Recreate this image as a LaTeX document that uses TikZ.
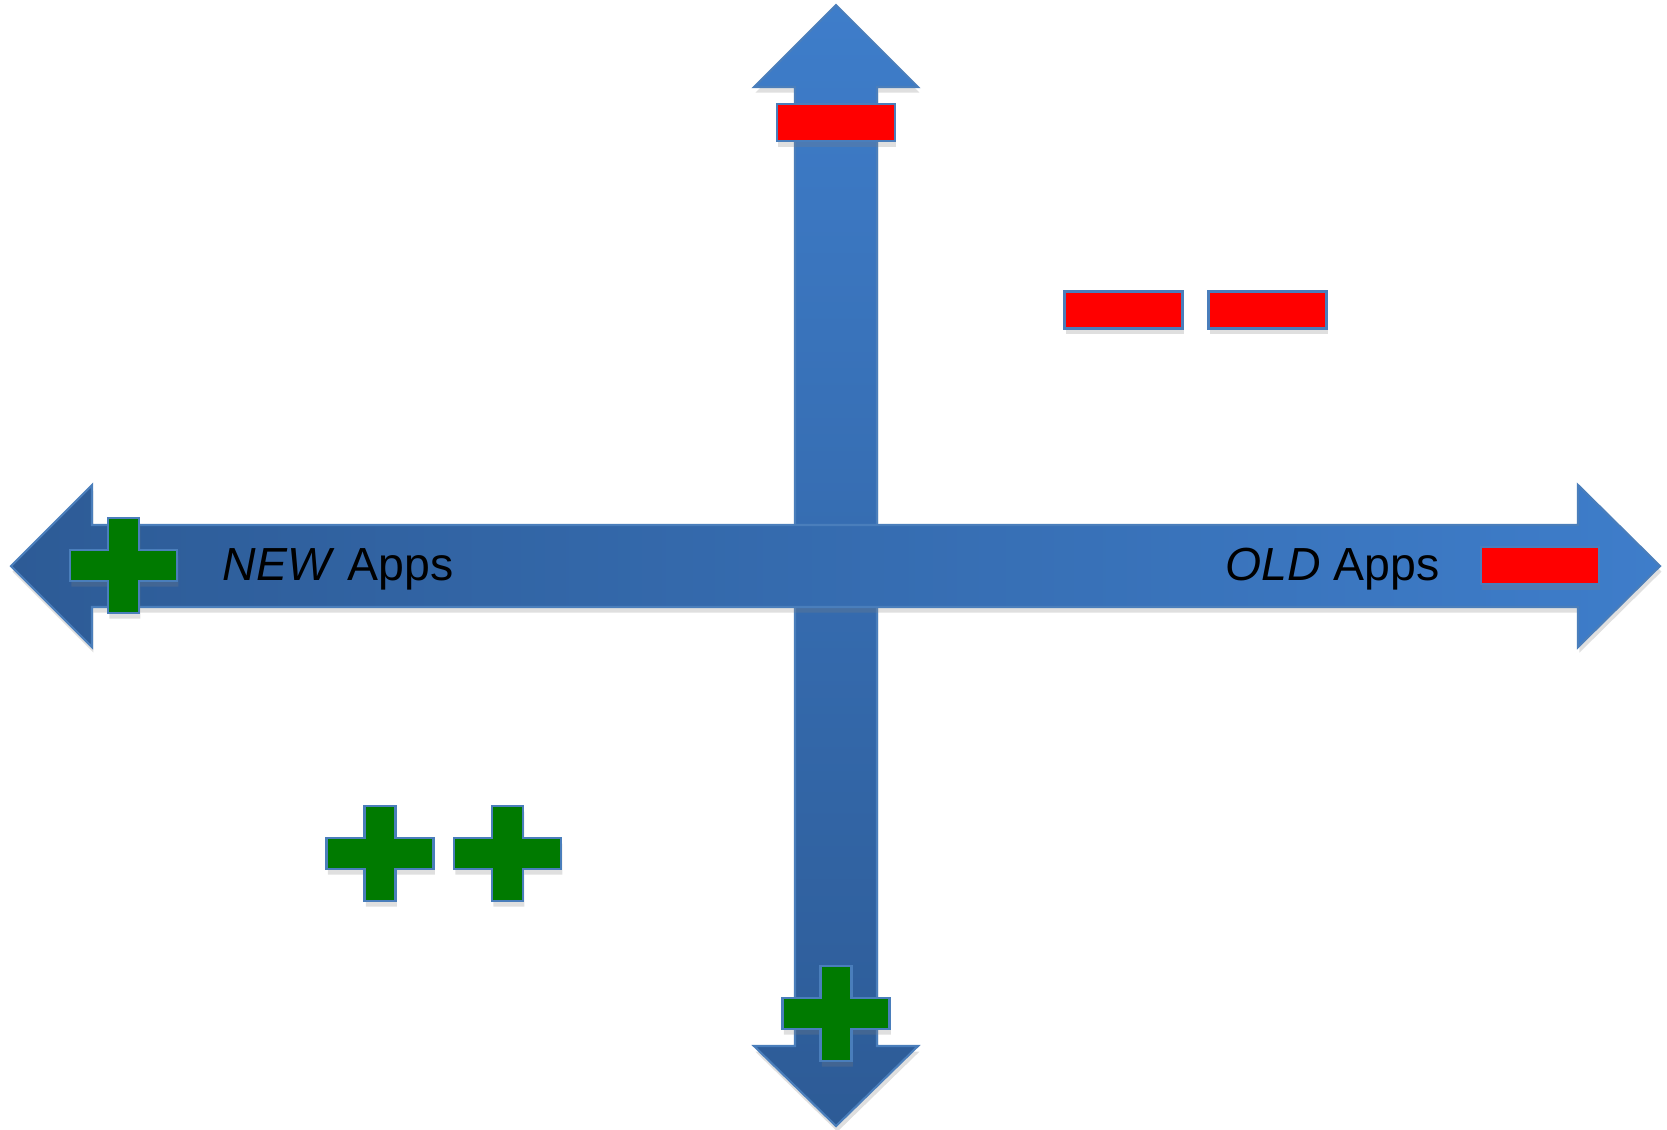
\documentclass[tikz,border=0pt]{standalone}
\usepackage{fontspec}
\setmainfont{Liberation Sans}
\usetikzlibrary{shadows}

\definecolor{azulclaro}{HTML}{3E7DCA}
\definecolor{azulescuro}{HTML}{2D5B96}
\definecolor{contorno}{HTML}{4A7EBB}
\definecolor{verde}{HTML}{007A00}

\tikzset{
	sombra/.style={drop shadow={opacity=0.25, shadow xshift=0.4pt, shadow yshift=-1.6pt}},
	seta/.style={draw=contorno, line width=0.6pt, sombra},
	menos/.style={draw=contorno, line width=0.8pt, fill=red, inner sep=0pt,
		minimum width=1.18cm, minimum height=0.37cm, sombra},
	cruz/.style={draw=contorno, line width=0.8pt, fill=verde, sombra},
	mais/.pic={
		\draw[cruz] (-53.5,-15.5) -- (-15.5,-15.5) -- (-15.5,-47.5) -- (15.5,-47.5)
			-- (15.5,-15.5) -- (53.5,-15.5) -- (53.5,15.5) -- (15.5,15.5)
			-- (15.5,47.5) -- (-15.5,47.5) -- (-15.5,15.5) -- (-53.5,15.5) -- cycle;
	},
	rotulo/.style={font=\fontsize{13.2}{16}\selectfont, inner sep=0pt}
}

\begin{document}
\begin{tikzpicture}[x=0.01cm, y=-0.01cm]

	\useasboundingbox (0,0) rectangle (1667,1129);

% Eixo vertical
	\path[seta, top color=azulclaro, bottom color=azulescuro]
		(836,5) -- (918,87) -- (877,87) -- (877,1046) -- (918,1046) -- (836,1126)
		-- (754,1046) -- (795,1046) -- (795,87) -- (754,87) -- cycle;

% Eixo horizontal
	\path[seta, left color=azulescuro, right color=azulclaro]
		(11,566) -- (92,485) -- (92,525) -- (1578,525) -- (1578,485) -- (1660,566)
		-- (1578,647) -- (1578,607) -- (92,607) -- (92,647) -- cycle;

% Rotulos
	\node[rotulo, anchor=base west] (novo) at (222,580) {\textit{NEW} Apps};
	\node[rotulo, anchor=base east] (velho) at (1440,580) {\textit{OLD} Apps};

% Sinais de menos
	\node[menos] (mtopo) at (836,122.5) {};
	\node[menos] (mdir) at (1540,565.5) {};
	\foreach \x [count=\i] in {1123.5, 1267.5}
		\node[menos] (m\i) at (\x,310) {};

% Sinais de mais
	\pic (pesq) at (123.5,565.5) {mais};
	\pic (pbaixo) at (836,1013.5) {mais};
	\foreach \x [count=\i] in {380, 507.5}
		\pic (p\i) at (\x,853.5) {mais};

\end{tikzpicture}
\end{document}
